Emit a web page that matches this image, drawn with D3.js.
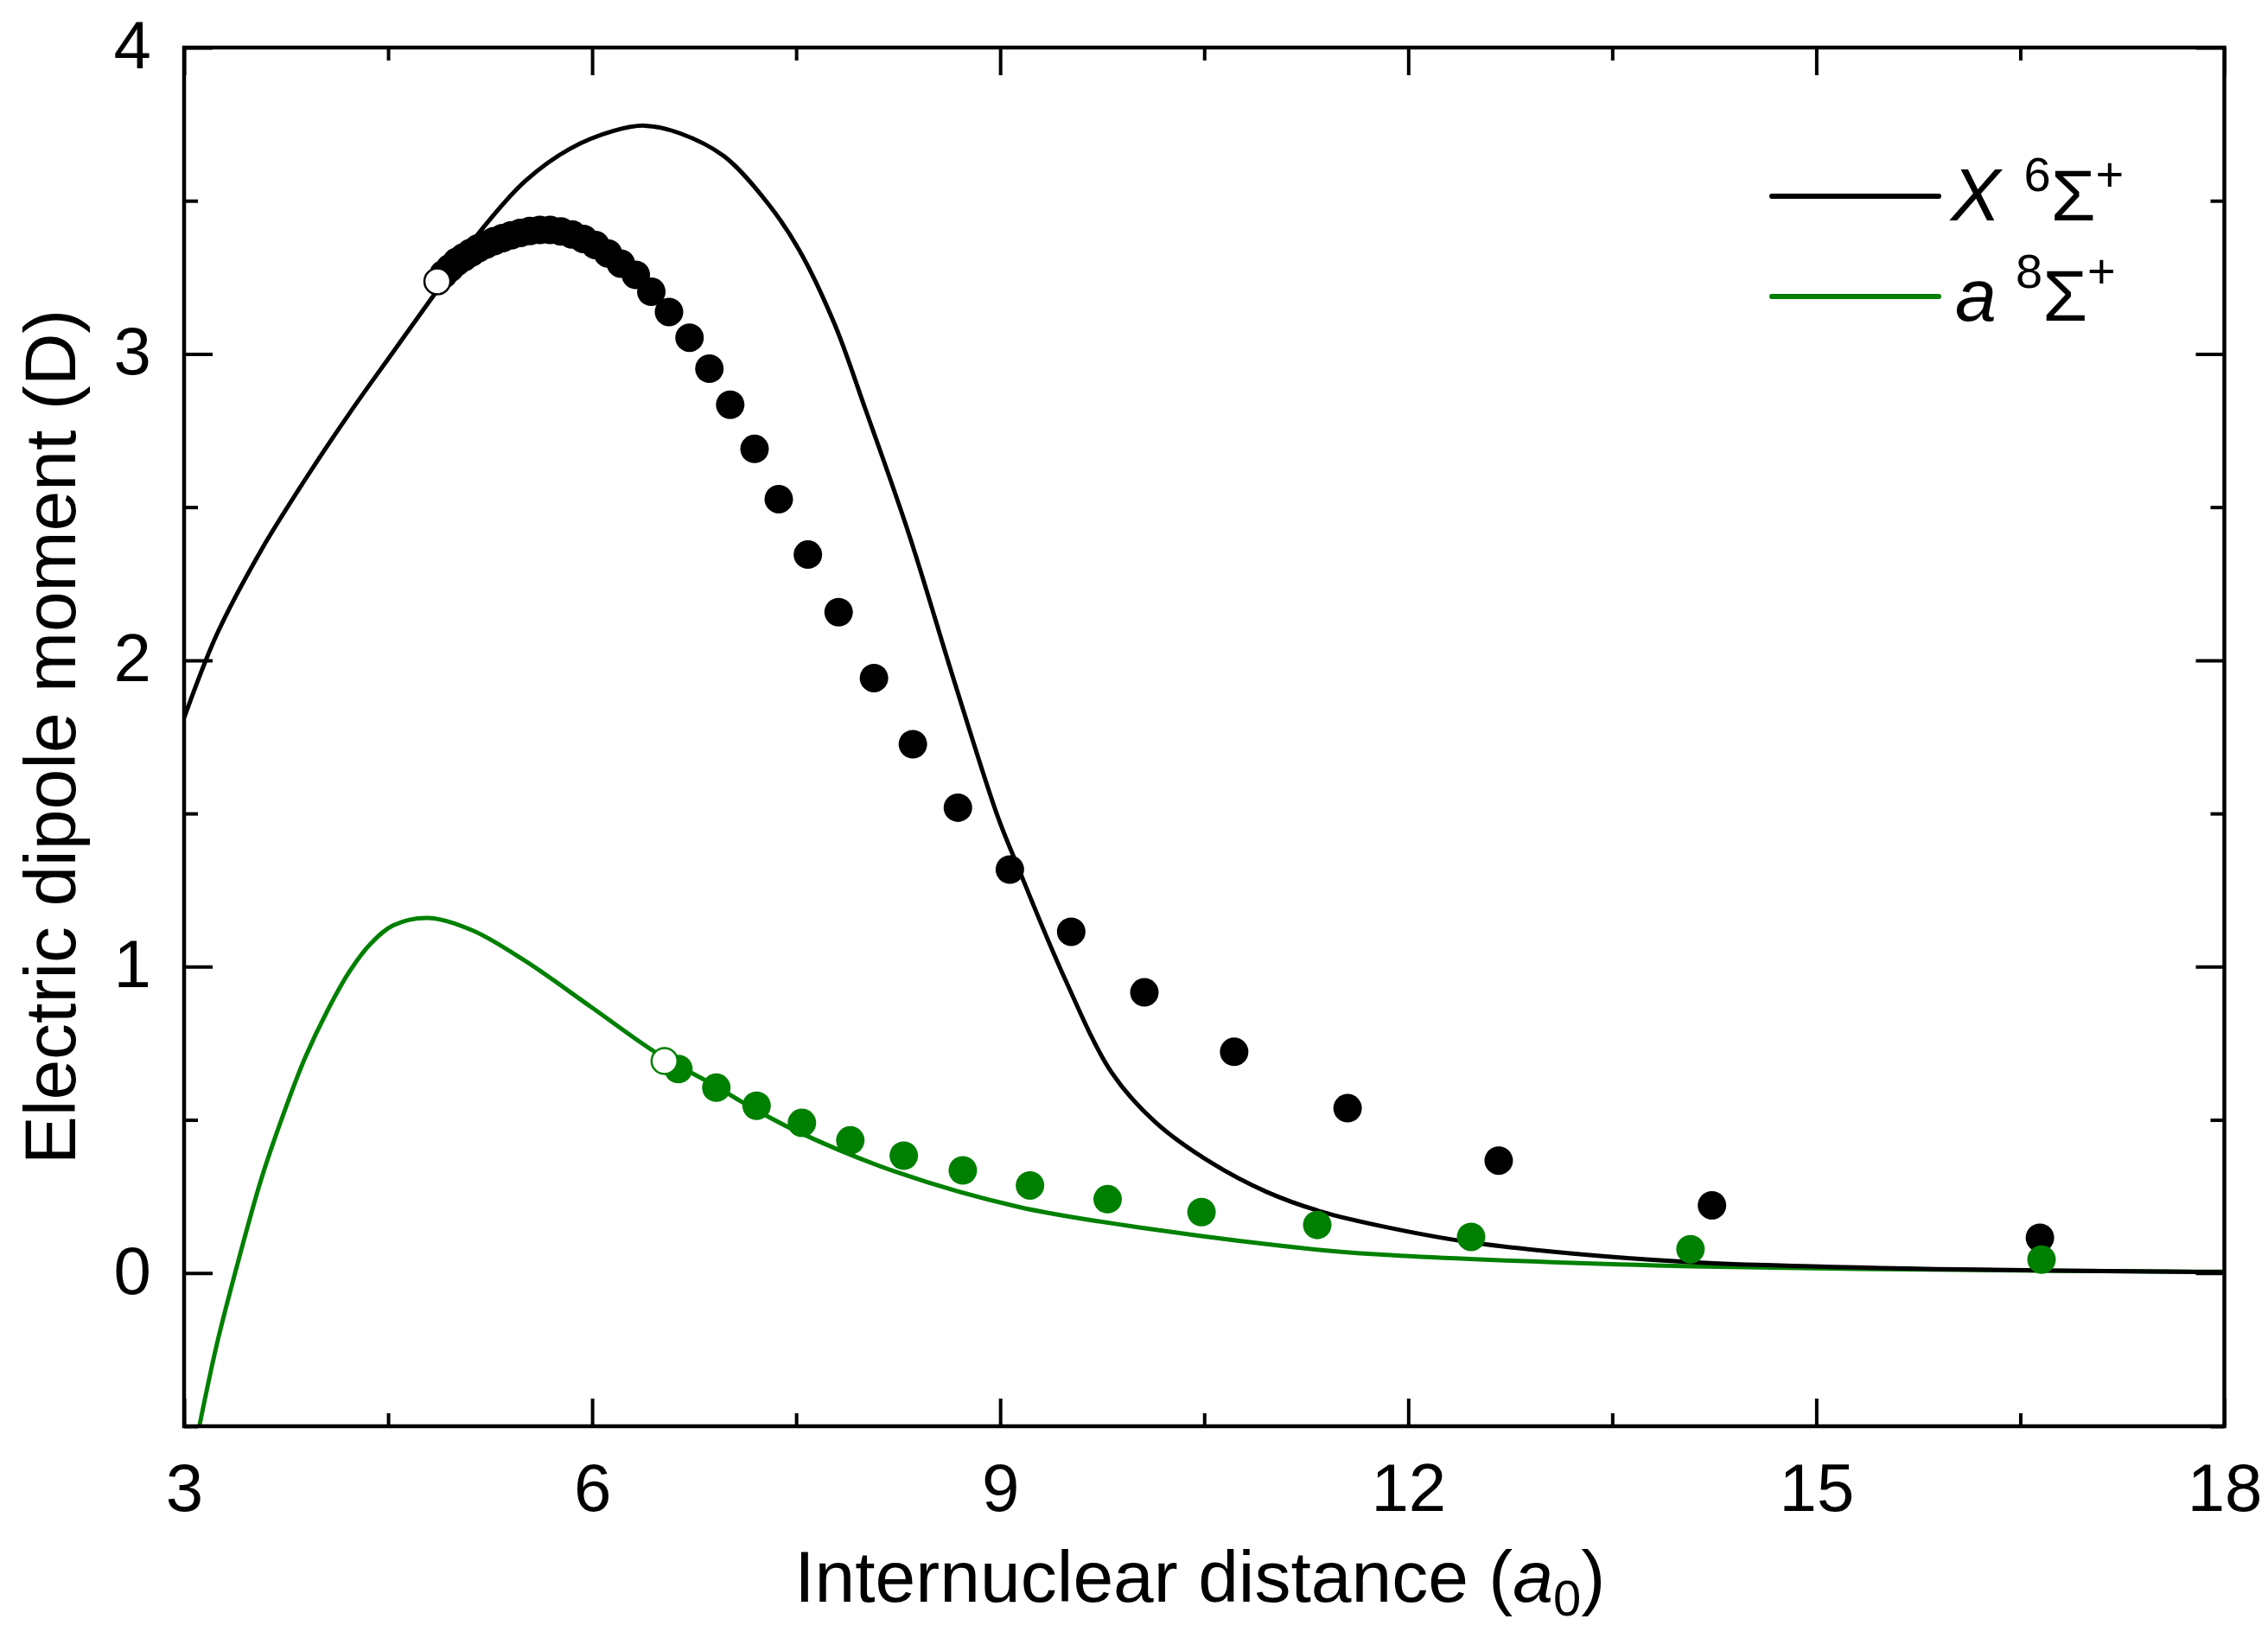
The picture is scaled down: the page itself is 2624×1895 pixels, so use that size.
<!DOCTYPE html>
<html>
<head>
<meta charset="utf-8">
<script src="https://cdn.jsdelivr.net/npm/d3@7/dist/d3.min.js"></script>
<style>
  body { margin: 0; background: #fff; }
  svg { display: block; }
  text { font-family: "Liberation Sans", Arial, sans-serif; fill: #000; }
</style>
</head>
<body>
<svg id="chart" width="2624" height="1895"></svg>
<script>
// ---- data ----
// X 6Sigma+ curve (R in a0, dipole in D)
const blackCurveR = [3.0, 3.241, 3.566, 3.89, 4.214, 4.538, 4.862, 5.186, 5.51, 5.834, 6.158, 6.387, 6.646, 6.97, 7.294, 7.521, 7.78, 8.007, 8.331, 8.655, 8.98, 9.126, 9.466, 9.823, 10.147, 10.552, 10.958, 11.363, 11.814, 12.46, 13.43, 14.245, 15.87, 18.0];
const blackCurveD = [1.812, 2.085, 2.359, 2.59, 2.805, 3.007, 3.208, 3.405, 3.565, 3.669, 3.728, 3.745, 3.72, 3.645, 3.49, 3.34, 3.1, 2.822, 2.409, 1.942, 1.492, 1.33, 0.97, 0.652, 0.49, 0.36, 0.265, 0.2, 0.152, 0.1, 0.055, 0.032, 0.013, 0.003];

// a 8Sigma+ curve
const greenCurveR = [3.112, 3.241, 3.403, 3.566, 3.728, 3.89, 4.052, 4.214, 4.376, 4.538, 4.798, 5.122, 5.51, 5.997, 6.482, 6.905, 7.13, 7.513, 8.242, 9.134, 10.147, 11.363, 11.81, 12.45, 14.08, 16.67, 18.0];
const greenCurveD = [-0.5, -0.232, 0.047, 0.305, 0.516, 0.703, 0.855, 0.983, 1.077, 1.135, 1.159, 1.118, 1.018, 0.867, 0.716, 0.611, 0.551, 0.461, 0.329, 0.216, 0.141, 0.075, 0.06, 0.046, 0.022, 0.008, 0.004];

// filled black points
const blackDotsR = [4.908, 4.955, 5.004, 5.055, 5.108, 5.163, 5.22, 5.279, 5.341, 5.405, 5.472, 5.542, 5.615, 5.691, 5.77, 5.852, 5.937, 6.025, 6.116, 6.211, 6.321, 6.435, 6.565, 6.716, 6.862, 7.015, 7.194, 7.372, 7.586, 7.812, 8.072, 8.358, 8.689, 9.071, 9.522, 10.06, 10.72, 11.554, 12.665, 14.233, 16.644];
const blackDotsD = [3.26, 3.28, 3.3, 3.315, 3.33, 3.345, 3.357, 3.368, 3.378, 3.387, 3.395, 3.401, 3.405, 3.405, 3.4, 3.39, 3.375, 3.355, 3.328, 3.295, 3.258, 3.203, 3.137, 3.053, 2.952, 2.834, 2.69, 2.526, 2.345, 2.157, 1.942, 1.726, 1.519, 1.317, 1.114, 0.916, 0.722, 0.538, 0.367, 0.221, 0.115];

// filled green points
const greenDotsR = [6.634, 6.913, 7.209, 7.542, 7.898, 8.291, 8.725, 9.219, 9.79, 10.48, 11.331, 12.462, 14.075, 16.656];
const greenDotsD = [0.666, 0.605, 0.546, 0.49, 0.433, 0.383, 0.335, 0.286, 0.241, 0.199, 0.157, 0.118, 0.078, 0.044];

// open (reference) points
const blackOpenR = [4.862];
const blackOpenD = [3.237];
const greenOpenR = [6.532];
const greenOpenD = [0.692];

// axes
const xTicks = [3, 6, 9, 12, 15, 18];
const xMinor = [4.5, 7.5, 10.5, 13.5, 16.5];
const yTicks = [0, 1, 2, 3, 4];
const yMinor = [-0.5, 0.5, 1.5, 2.5, 3.5];

const green = "#008000";

const svg = d3.select("#chart");
const L = 213, R = 2573.5, T = 55, B = 1650;

const x = d3.scaleLinear().domain([3, 18]).range([L, R]);
const y = d3.scaleLinear().domain([-0.5, 4]).range([B, T]);

// clip for the curves
svg.append("defs").append("clipPath").attr("id", "plot")
  .append("rect").attr("x", L).attr("y", T).attr("width", R - L).attr("height", B - T);

function styleAxis(g, size) {
  g.select(".domain").remove();
  g.selectAll("line").attr("stroke", "#000").attr("stroke-width", 4);
  g.selectAll("text").attr("font-family", '"Liberation Sans", Arial, sans-serif').attr("font-size", size).attr("fill", "#000");
  g.attr("font-family", null).attr("font-size", null);
}

// bottom
svg.append("g").attr("transform", `translate(0,${B})`)
  .call(d3.axisBottom(x).tickValues(xTicks).tickSize(-32).tickPadding(43).tickFormat(d3.format("d")))
  .call(g => styleAxis(g, 78));
svg.append("g").attr("transform", `translate(0,${B})`)
  .call(d3.axisBottom(x).tickValues(xMinor).tickSize(-15).tickFormat(""))
  .call(g => styleAxis(g, 78));
// top
svg.append("g").attr("transform", `translate(0,${T})`)
  .call(d3.axisTop(x).tickValues(xTicks).tickSize(-32).tickFormat(""))
  .call(g => styleAxis(g, 78));
svg.append("g").attr("transform", `translate(0,${T})`)
  .call(d3.axisTop(x).tickValues(xMinor).tickSize(-15).tickFormat(""))
  .call(g => styleAxis(g, 78));
// left
svg.append("g").attr("transform", `translate(${L},0)`)
  .call(d3.axisLeft(y).tickValues(yTicks).tickSize(-33).tickPadding(38).tickFormat(d3.format("d")))
  .call(g => styleAxis(g, 78))
  .call(g => g.selectAll("text").attr("dy", "0.3em"));
svg.append("g").attr("transform", `translate(${L},0)`)
  .call(d3.axisLeft(y).tickValues(yMinor).tickSize(-16).tickFormat(""))
  .call(g => styleAxis(g, 78));
// right
svg.append("g").attr("transform", `translate(${R},0)`)
  .call(d3.axisRight(y).tickValues(yTicks).tickSize(-33).tickFormat(""))
  .call(g => styleAxis(g, 78));
svg.append("g").attr("transform", `translate(${R},0)`)
  .call(d3.axisRight(y).tickValues(yMinor).tickSize(-16).tickFormat(""))
  .call(g => styleAxis(g, 78));

// curves
const line = d3.line().x(d => x(d[0])).y(d => y(d[1])).curve(d3.curveCatmullRom.alpha(0.5));
const curves = svg.append("g").attr("clip-path", "url(#plot)");
curves.append("path")
  .attr("d", line(d3.zip(greenCurveR, greenCurveD)))
  .attr("fill", "none").attr("stroke", green).attr("stroke-width", 5);
curves.append("path")
  .attr("d", line(d3.zip(blackCurveR, blackCurveD)))
  .attr("fill", "none").attr("stroke", "#000").attr("stroke-width", 5);

// points
svg.append("g").selectAll("circle")
  .data(d3.zip(blackDotsR, blackDotsD)).join("circle")
  .attr("cx", d => x(d[0])).attr("cy", d => y(d[1])).attr("r", 16.5)
  .attr("fill", "#000");
svg.append("g").selectAll("circle")
  .data(d3.zip(greenDotsR, greenDotsD)).join("circle")
  .attr("cx", d => x(d[0])).attr("cy", d => y(d[1])).attr("r", 16.5)
  .attr("fill", green);
svg.append("g").selectAll("circle")
  .data(d3.zip(blackOpenR, blackOpenD)).join("circle")
  .attr("cx", d => x(d[0])).attr("cy", d => y(d[1])).attr("r", 15)
  .attr("fill", "#fff").attr("stroke", "#000").attr("stroke-width", 2.5);
svg.append("g").selectAll("circle")
  .data(d3.zip(greenOpenR, greenOpenD)).join("circle")
  .attr("cx", d => x(d[0])).attr("cy", d => y(d[1])).attr("r", 15)
  .attr("fill", "#fff").attr("stroke", green).attr("stroke-width", 2.5);

// frame
svg.append("rect").attr("x", L).attr("y", T).attr("width", R - L).attr("height", B - T)
  .attr("fill", "none").attr("stroke", "#000").attr("stroke-width", 4.5);

// axis titles
const xt = svg.append("text").attr("x", (L + R) / 2 - 5).attr("y", 1853)
  .attr("text-anchor", "middle").attr("font-size", 84);
xt.append("tspan").text("Internuclear distance (");
xt.append("tspan").attr("font-style", "italic").text("a");
xt.append("tspan").attr("font-size", 58).attr("dy", 16).text("0");
xt.append("tspan").attr("dy", -16).text(")");

svg.append("text")
  .attr("transform", `translate(87,${(T + B) / 2}) rotate(-90)`)
  .attr("text-anchor", "middle").attr("font-size", 84)
  .text("Electric dipole moment (D)");

// legend
const legend = [
  { label: "X", sup: "6", color: "#000", ly: 227, ty: 255, tx: 2257, sx: 2341.5, shift: 34 },
  { label: "a", sup: "8", color: green, ly: 343, ty: 371, tx: 2262, sx: 2332, shift: 38 }
];
const lg = svg.append("g");
legend.forEach(d => {
  lg.append("line").attr("x1", 2050).attr("x2", 2243).attr("y1", d.ly).attr("y2", d.ly)
    .attr("stroke", d.color).attr("stroke-width", 6).attr("stroke-linecap", "round");
  const t = lg.append("text").attr("x", d.tx).attr("y", d.ty).attr("font-size", 86);
  t.append("tspan").attr("font-style", "italic").text(d.label);
  t.append("tspan").attr("x", d.sx).attr("dy", -d.shift).attr("font-size", 56).text(d.sup);
  t.append("tspan").attr("dy", d.shift).attr("font-size", 84).text("\u03A3");
  t.append("tspan").attr("dy", -d.shift).attr("font-size", 56).text("+");
});
</script>
</body>
</html>
